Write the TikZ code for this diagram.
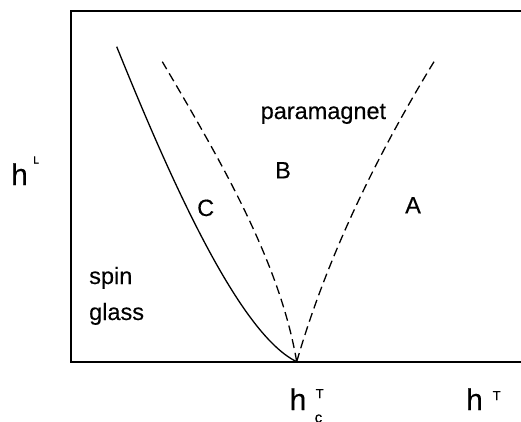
\documentclass[tikz,border=0pt]{standalone}
\usepackage{fontspec}
\setmainfont{Liberation Sans}[FakeBold=0.25]
\begin{document}
\begin{tikzpicture}[x=1pt,y=-1pt,
  lbl/.style={font=\fontsize{23.5}{28}\selectfont, inner sep=0pt, anchor=base west},
  axl/.style={font=\fontsize{30}{34}\selectfont, inner sep=0pt, anchor=base west},
  sup/.style={font=\fontsize{13}{15}\selectfont, inner sep=0pt, anchor=base west},
  frame/.style={line width=2.2pt},
  curve/.style={line width=1.3pt},
  dcurve/.style={line width=1.3pt, dash pattern=on 9pt off 5pt}]
\useasboundingbox (0,0) rectangle (521,421);
% frame
\coordinate (tr) at (522,10.7);
\coordinate (tl) at (71.2,10.7);
\coordinate (bl) at (71.2,362.3);
\coordinate (br) at (522,362.3);
\draw[frame] (tr) -- (tl) -- (bl) -- (br);
% critical point and curve ends
\coordinate (hc) at (296.7,361.7);
\coordinate (sTop) at (116.7,46.7);
\coordinate (lTop) at (162.3,61.7);
\coordinate (rTop) at (434,61.7);
% solid line
\draw[curve] (hc) .. controls (236.7,332.7) and (165.3,166.7) .. (sTop);
% left dashed
\draw[dcurve] (hc) .. controls (279.7,261.7) and (221.3,161.7) .. (lTop);
% right dashed
\draw[dcurve] (hc) .. controls (325.7,261.7) and (373,161.7) .. (rTop);
% region labels
\node[lbl] (para) at (260.5,119) {paramagnet};
\node[lbl] (B) at (275,178.3) {B};
\node[lbl] (C) at (197,216) {C};
\node[lbl] (A) at (405,213.3) {A};
\node[lbl] (spin) at (89,284) {spin};
\node[lbl] (glass) at (89,320) {glass};
% axis labels
\node[axl] (hL) at (11,185) {h};
\node[sup] (L) at (33,163.5) {\fontsize{10.5}{12}\selectfont L};
\node[axl] (hTc) at (289.5,410) {h};
\node[sup] (Tc) at (315.5,398) {T};
\node[sup] (c) at (314.5,422.5) {\fontsize{15}{17}\selectfont c};
\node[axl] (hT) at (466,410) {h};
\node[sup] (T) at (492.5,400) {T};
\end{tikzpicture}
\end{document}
